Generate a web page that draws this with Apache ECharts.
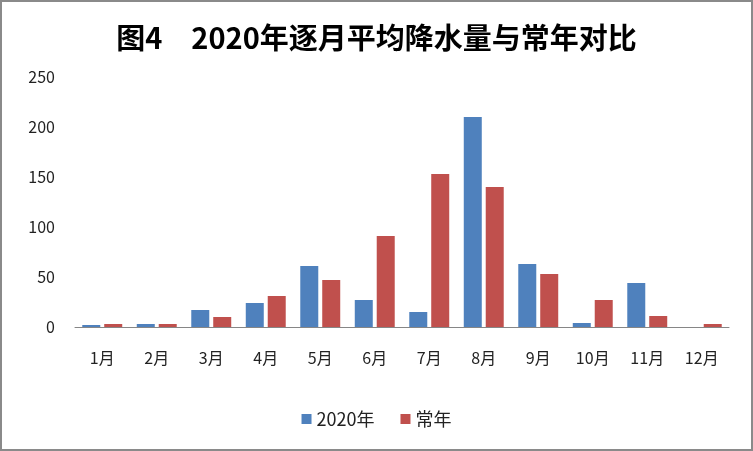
<!DOCTYPE html>
<html>
<head>
<meta charset="utf-8">
<script src="https://cdn.jsdelivr.net/npm/echarts@6/dist/echarts.min.js"></script>
<style>
  html, body { margin: 0; padding: 0; background: #fff; }
  #chart { width: 753px; height: 451px; box-sizing: border-box; border: 2px solid #8a8a8a; }
</style>
</head>
<body>
<div id="chart"></div>
<script>
const months = ['1月', '2月', '3月', '4月', '5月', '6月', '7月', '8月', '9月', '10月', '11月', '12月']
const rain2020 = [2, 3, 17, 24, 61, 27, 15, 210, 63, 4, 44, 0]
const rainNormal = [3, 3, 10, 31, 47, 91, 153, 140, 53, 27, 11, 3]

const font = '"Noto Sans CJK SC", "Microsoft YaHei", sans-serif'
const chart = echarts.init(document.getElementById('chart'))

chart.setOption({
  animation: false,
  title: {
    text: '图4　2020年逐月平均降水量与常年对比',
    left: 'center',
    top: 16,
    textStyle: { fontFamily: font, fontSize: 29, fontWeight: 'bold', color: '#000' },
  },
  legend: {
    bottom: 16,
    left: 'center',
    itemWidth: 10,
    itemHeight: 10,
    itemGap: 26,
    icon: 'rect',
    textStyle: { fontFamily: font, fontSize: 18, color: '#222' },
  },
  grid: { left: 73, right: 22, top: 75, bottom: 122 },
  xAxis: {
    type: 'category',
    data: months,
    axisLine: { lineStyle: { color: '#868686' } },
    axisTick: { show: false },
    axisLabel: { fontFamily: font, fontSize: 16, color: '#222', margin: 23 },
  },
  yAxis: {
    type: 'value',
    min: 0,
    max: 250,
    interval: 50,
    splitLine: { show: false },
    axisLine: { show: false },
    axisTick: { show: false },
    axisLabel: { fontFamily: font, fontSize: 16, color: '#222', margin: 20 },
  },
  series: [
    { name: '2020年', type: 'bar', data: rain2020, barWidth: 18, barGap: '22%', itemStyle: { color: '#4F81BD' } },
    { name: '常年', type: 'bar', data: rainNormal, barWidth: 18, barGap: '22%', itemStyle: { color: '#C0504D' } },
  ],
})
</script>
</body>
</html>
